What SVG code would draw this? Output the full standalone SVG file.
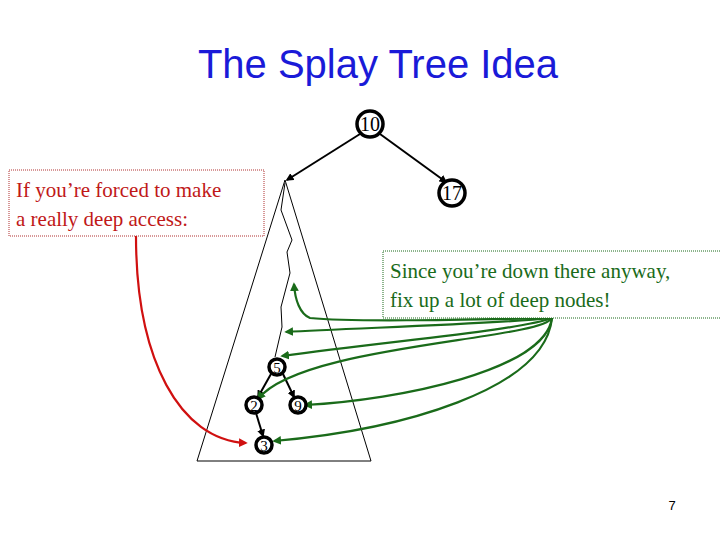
<svg xmlns="http://www.w3.org/2000/svg" width="720" height="540" viewBox="0 0 720 540">
<style>
.t{font-family:"Liberation Serif",serif}
.n circle{fill:#fff;stroke:#000;stroke-width:3.5}
.n text{font-family:"Liberation Serif",serif;text-anchor:middle;fill:#000}
.g{fill:none;stroke:#1a6b1a;stroke-width:2.2;marker-end:url(#ag)}
.e{stroke:#000;stroke-width:2;marker-end:url(#ab)}
</style>
<defs>
<marker id="ag" viewBox="0 0 10 10" refX="8" refY="5" markerWidth="4" markerHeight="4" orient="auto"><path d="M0,0L10,5L0,10z" fill="#1a6b1a"/></marker>
<marker id="ab" viewBox="0 0 10 10" refX="8" refY="5" markerWidth="4" markerHeight="4" orient="auto"><path d="M0,0L10,5L0,10z" fill="#000"/></marker>
<marker id="ar" viewBox="0 0 10 10" refX="8" refY="5" markerWidth="4" markerHeight="4" orient="auto"><path d="M0,0L10,5L0,10z" fill="#d01010"/></marker>
</defs>
<rect width="720" height="540" fill="#fff"/>
<text x="378" y="78" font-family="Liberation Sans,sans-serif" font-size="40" fill="#1a1ad8" text-anchor="middle">The Splay Tree Idea</text>
<g id="subtree" fill="none" stroke="#000" stroke-width="1">
<path d="M285,180L197,461H371Z"/>
<path d="M285,183L281,210L292,240L287,252L290,273L281,307L282,327L275,357"/>
</g>
<g id="connectors">
<line class="e" x1="360" y1="134" x2="287" y2="180"/>
<line class="e" x1="380" y1="134" x2="446" y2="182"/>
<line class="e" x1="271" y1="374" x2="258" y2="397"/>
<line class="e" x1="283" y1="374" x2="294" y2="397"/>
<line class="e" x1="256" y1="413" x2="263" y2="436"/>
<path class="g" d="M552,318C450,320 350,322 310,318C300,314 295,300 294,284"/>
<path class="g" d="M552,318C480,325 350,328 286,332"/>
<path class="g" d="M552,318C520,330 400,340 282,356"/>
<path class="g" d="M552,318C540,340 300,345 258,399"/>
<path class="g" d="M552,318C545,370 400,400 305,405"/>
<path class="g" d="M552,318C545,390 400,430 274,441"/>
<path fill="none" stroke="#d01010" stroke-width="2.2" marker-end="url(#ar)" d="M136,236C136,360 180,440 246,443"/>
</g>
<g id="n10" class="n"><circle cx="370" cy="124" r="13"/><text x="370" y="131" font-size="20">10</text></g>
<g id="n17" class="n"><circle cx="452" cy="193" r="13"/><text x="452" y="200" font-size="20">17</text></g>
<g id="n5" class="n"><circle cx="277" cy="367" r="8"/><text x="277" y="373" font-size="15">5</text></g>
<g id="n2" class="n"><circle cx="254" cy="405" r="8"/><text x="254" y="411" font-size="15">2</text></g>
<g id="n9" class="n"><circle cx="298" cy="405" r="8"/><text x="298" y="411" font-size="15">9</text></g>
<g id="n3" class="n"><circle cx="264" cy="445" r="8"/><text x="264" y="451" font-size="15">3</text></g>
<g id="note1">
<rect x="9" y="170" width="255" height="66" fill="#fff" stroke="#b03030" stroke-width="1" stroke-dasharray="1,1"/>
<text class="t" x="16" y="197" font-size="21" fill="#c01818">If you’re forced to make</text>
<text class="t" x="16" y="226" font-size="21" fill="#c01818">a really deep access:</text>
</g>
<g id="note2">
<rect x="383" y="251" width="345" height="67" fill="#fff" stroke="#1a6b1a" stroke-width="1" stroke-dasharray="1,1"/>
<text class="t" x="390" y="278" font-size="21" fill="#1a6b1a">Since you’re down there anyway,</text>
<text class="t" x="390" y="307" font-size="21" fill="#1a6b1a">fix up a lot of deep nodes!</text>
</g>
<text x="672" y="510" font-family="Liberation Sans,sans-serif" font-size="13" fill="#000" text-anchor="middle">7</text>
</svg>
